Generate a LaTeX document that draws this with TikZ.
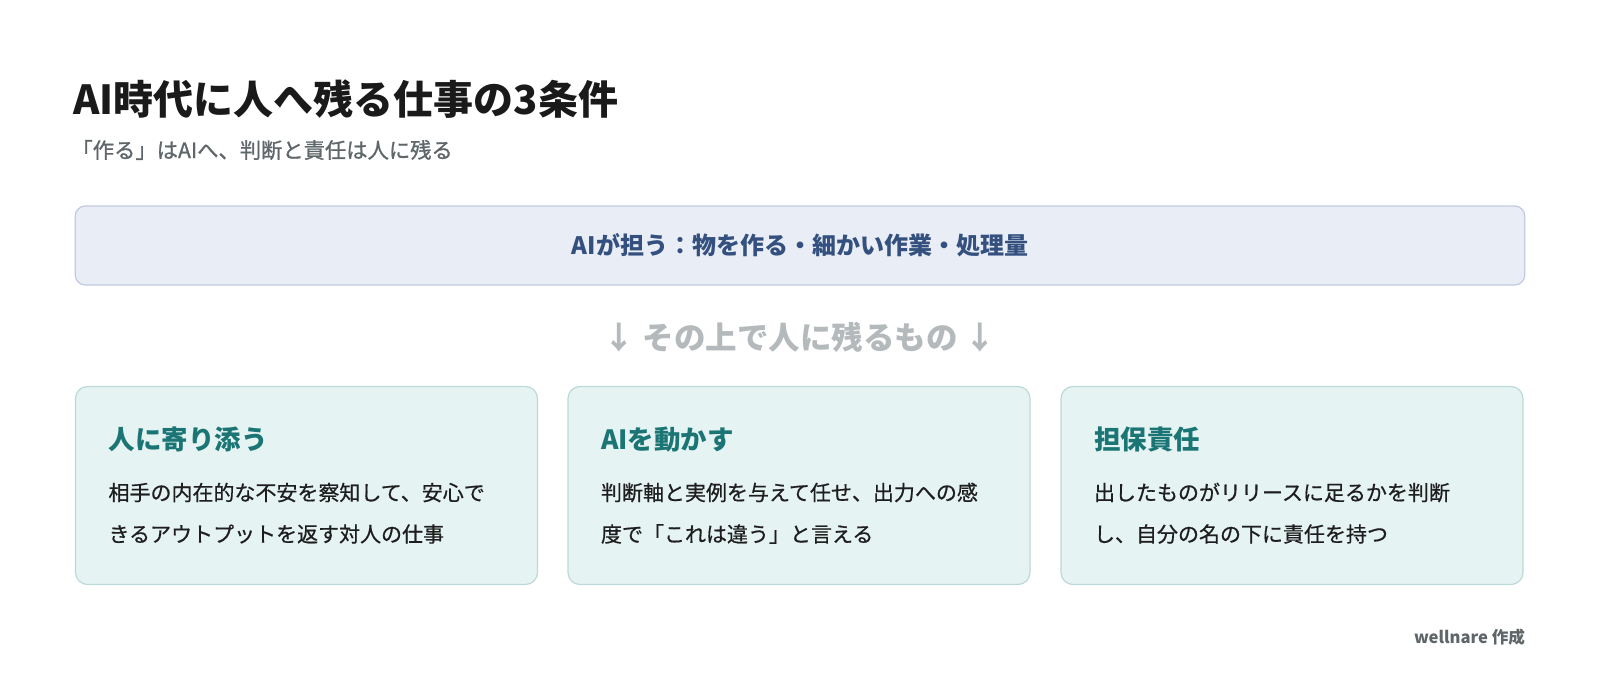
\documentclass[tikz,border=0pt]{standalone}
\usepackage{fontspec}
\setmainfont{Noto Sans CJK JP}
\newfontfamily\jpmedium{Noto Sans CJK JP}[FakeBold=0.6]
\newfontfamily\jpsemibold{Noto Sans CJK JP}[FakeBold=1.0]
\usetikzlibrary{positioning}
\definecolor{titlecol}{HTML}{1A1A1A}
\definecolor{subcol}{HTML}{5F6669}
\definecolor{aifill}{HTML}{E9EDF6}
\definecolor{aidraw}{HTML}{C3CADE}
\definecolor{aitext}{HTML}{34507F}
\definecolor{midcol}{HTML}{B4B9BC}
\definecolor{cardfill}{HTML}{E6F3F3}
\definecolor{carddraw}{HTML}{BCD9D8}
\definecolor{headcol}{HTML}{1B7575}
\definecolor{bodycol}{HTML}{1E1E1E}
\newcommand{\cardw}{462pt}
\newcommand{\cardh}{198pt}

\begin{document}
\begin{tikzpicture}[x=1pt, y=-1pt,
        every node/.style={inner sep=0pt, outer sep=0pt},
        card/.style={draw=carddraw, fill=cardfill, line width=1.2pt, rounded corners=12pt,
            minimum width=\cardw, minimum height=\cardh},
        cardhead/.style={anchor=west, text=headcol, font=\fontsize{26.5}{32}\selectfont\bfseries},
        cardline/.style={anchor=west, text=bodycol, font=\jpmedium\fontsize{21}{25}\selectfont}]
        \useasboundingbox[fill=white] (0,0) rectangle (1600,673);
        \node[anchor=west, text=titlecol, font=\fontsize{40}{48}\selectfont\bfseries]
            (title) at (73.5,99) {AI時代に人へ残る仕事の3条件};
        \node[anchor=west, text=subcol, font=\jpsemibold\fontsize{21.3}{26}\selectfont]
            (sub) at (71.5,150) {「作る」はAIへ、判断と責任は人に残る};
        \node[draw=aidraw, fill=aifill, line width=1.2pt, rounded corners=10pt,
            minimum width=1449.5pt, minimum height=79pt] (ai) at (800,245.5) {};
        \node[text=aitext, font=\fontsize{24}{29}\selectfont\bfseries] (aitxt) at (ai) {AIが担う：物を作る・細かい作業・処理量};
        \node[text=midcol, font=\fontsize{31.5}{38}\selectfont\bfseries] (mid) at (800,337) {↓ その上で人に残るもの ↓};

        \node[card] (care) at (306.5,485.5) {};
        \node[card, right=30.5pt of care] (drive) {};
        \node[card, right=31pt of drive] (duty) {};

        \node[cardhead] (carehead) at ([xshift=33pt, yshift=-53pt]care.north west) {人に寄り添う};
        \node[cardline] (careone) at ([xshift=33pt, yshift=-106pt]care.north west) {相手の内在的な不安を察知して、安心で};
        \node[cardline] (caretwo) at ([xshift=33pt, yshift=-147.5pt]care.north west) {きるアウトプットを返す対人の仕事};

        \node[cardhead] (drivehead) at ([xshift=33pt, yshift=-53pt]drive.north west) {AIを動かす};
        \node[cardline] (driveone) at ([xshift=33pt, yshift=-106pt]drive.north west) {判断軸と実例を与えて任せ、出力への感};
        \node[cardline] (drivetwo) at ([xshift=33pt, yshift=-147.5pt]drive.north west) {度で「これは違う」と言える};

        \node[cardhead] (dutyhead) at ([xshift=33pt, yshift=-53pt]duty.north west) {担保責任};
        \node[cardline] (dutyone) at ([xshift=33pt, yshift=-106pt]duty.north west) {出したものがリリースに足るかを判断};
        \node[cardline] (dutytwo) at ([xshift=33pt, yshift=-147.5pt]duty.north west) {し、自分の名の下に責任を持つ};

        \node[anchor=east, text=subcol, font=\fontsize{16.6}{20}\selectfont\bfseries] (credit) at (1525,637) {wellnare 作成};
    \end{tikzpicture}
\end{document}
